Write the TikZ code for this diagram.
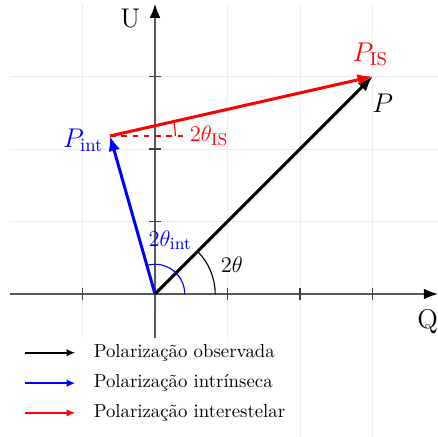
\documentclass[tikz,border=0pt]{standalone}
\usepackage{amsmath,amssymb}
\usepackage{xcolor}
\usepackage{tikz}
\usetikzlibrary{positioning,arrows.meta}

\begin{document}
\begin{tikzpicture}[
    x=1.357cm, y=1.357cm,
    gridline/.style={gray!15, line width=0.5pt},
    axis/.style={black!65, line width=0.7pt, -{Latex[length=2.6mm, width=2mm, black]}},
    tick/.style={black!75, line width=0.7pt},
    vec/.style={line width=1.6pt, -{Latex[length=2.8mm, width=2.2mm]}},
    legarrow/.style={line width=1.1pt, -{Latex[length=1.6mm, width=1.4mm]}},
    legtext/.style={font=\normalsize, anchor=west, inner sep=0pt},
    lbl/.style={font=\fontsize{13}{15}\selectfont}
]
\useasboundingbox (-2.138,-1.959) rectangle (3.903,4.055);

% grid
\foreach \y in {1,2,3}
    \draw[gridline] (-2,\y) -- (3.9,\y);
\foreach \x in {-1,1,2,3}
    \draw[gridline] (\x,-2) -- (\x,4);

% axes
\coordinate (O) at (0,0);
\draw[axis] (-2,0) -- (3.9,0);
\draw[axis] (0,-2) -- (0,4);
\node[font=\Large] (Qlab) at (3.76,-0.38) {Q};
\node[font=\Large] (Ulab) at (-0.34,3.8) {U};
\foreach \x in {-1,1,2,3}
    \draw[tick] (\x,-0.08) -- (\x,0.08);
\foreach \y in {1,2,3}
    \draw[tick] (-0.08,\y) -- (0.08,\y);

% vectors
\coordinate (P) at (3,3);
\coordinate (Pint) at (-0.62,2.18);
\coordinate (Dend) at (0.45,2.18);

\draw[dashed, red, line width=0.6pt] (Pint) -- (Dend);
\draw[vec, black] (O) -- (P);
\draw[vec, blue] (O) -- (Pint);
\draw[vec, red] (Pint) -- (P);

% angles
\draw[black, line width=0.6pt] (0.83,0) arc[start angle=0, end angle=45, radius=0.83];
\draw[blue, line width=0.6pt] (0.41,0) arc[start angle=0, end angle=105.9, radius=0.41];
\draw[red, line width=0.6pt] (0.28,2.18) arc[start angle=0, end angle=12.8, radius=0.9];

% labels
\node[font=\Large] (Plab) at (3.14,2.63) {$P$};
\node[font=\Large, red] (PISlab) at (2.97,3.31) {$P_{\text{IS}}$};
\node[font=\Large, blue] (Pintlab) at (-0.99,2.12) {$P_{\text{int}}$};
\node[lbl, blue] (tintlab) at (0.21,0.74) {$2\theta_{\text{int}}$};
\node[lbl] (tlab) at (1.06,0.4) {$2\theta$};
\node[lbl, red, anchor=west, inner sep=1pt] (tislab) at (Dend) {$2\theta_{\text{IS}}$};

% legend
\fill[white] (-2.2,-0.61) rectangle (1.97,-2.1);
\coordinate (l1s) at (-1.79,-0.81);
\coordinate (l2s) at (-1.79,-1.23);
\coordinate (l3s) at (-1.79,-1.64);
\coordinate[right=0.69 of l1s] (l1e);
\coordinate[right=0.69 of l2s] (l2e);
\coordinate[right=0.69 of l3s] (l3e);
\draw[legarrow, black] (l1s) -- (l1e);
\draw[legarrow, blue] (l2s) -- (l2e);
\draw[legarrow, red] (l3s) -- (l3e);
\node[legtext, right=0.25 of l1e] (leg1) {Polarização observada};
\node[legtext, right=0.25 of l2e] (leg2) {Polarização intrínseca};
\node[legtext, right=0.25 of l3e] (leg3) {Polarização interestelar};

\end{tikzpicture}
\end{document}
